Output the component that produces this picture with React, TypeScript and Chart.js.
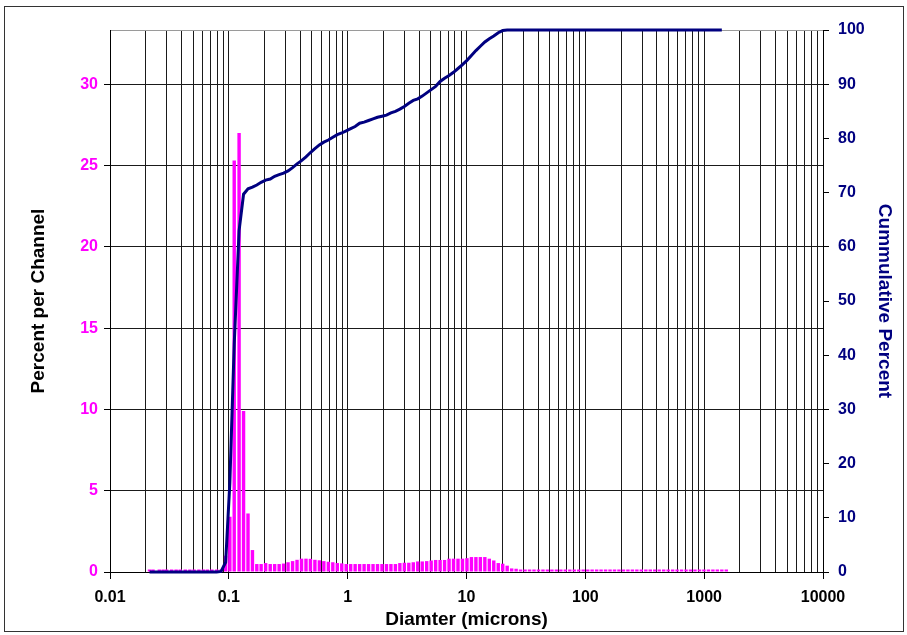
import React, { useEffect, useRef } from "react";
import { Chart, registerables } from "chart.js";

Chart.register(...registerables);

// Channel diameters (microns), ascending
const diameters = [
  0.0215, 0.023, 0.026, 0.028, 0.030, 0.033, 0.036, 0.039, 0.043, 0.047, 0.051, 0.056, 0.061, 0.066, 0.072, 0.079,
  0.086, 0.094, 0.102, 0.111, 0.122, 0.133, 0.145, 0.158,
  0.172, 0.187, 0.204, 0.223, 0.243, 0.265, 0.289, 0.315,
  0.344, 0.375, 0.409, 0.446, 0.486, 0.530, 0.578, 0.630,
  0.688, 0.750, 0.818, 0.892, 0.972, 1.060, 1.156, 1.261,
  1.375, 1.499, 1.635, 1.783, 1.945, 2.121, 2.312, 2.522,
  2.750, 2.999, 3.270, 3.566, 3.889, 4.241, 4.625, 5.044,
  5.500, 5.998, 6.541, 7.133, 7.778, 8.482, 9.250, 10.09,
  11.00, 12.00, 13.08, 14.27, 15.56, 16.96, 18.50, 20.17,
  22.00, 23.99, 26.16, 28.53, 31.11, 33.93, 37.00, 40.35,
  44.00, 47.98, 52.33, 57.06, 62.23, 67.86, 74.00, 80.70,
  88.00, 95.96, 104.7, 114.1, 124.5, 135.7, 148.0, 161.4,
  176.0, 191.9, 209.3, 228.2, 248.9, 271.4, 296.0, 322.8,
  352.0, 383.9, 418.6, 456.5, 497.8, 542.9, 592.0, 645.6,
  704.0, 767.7, 837.2, 913.0, 995.6, 1086, 1184, 1291,
  1408, 1535,
];

// Percent per channel (bars, left axis)
const percentPerChannel = [
  0, 0, 0, 0, 0, 0, 0, 0, 0, 0, 0, 0, 0, 0, 0, 0, 0,
  1.0, 3.4, 25.3, 27.0, 9.9, 3.6, 1.35,
  0.49, 0.49, 0.55, 0.49, 0.49, 0.49,
  0.52, 0.60, 0.67, 0.75, 0.82, 0.82, 0.81, 0.75, 0.72, 0.67, 0.63, 0.60, 0.55, 0.53, 0.49,
  0.49, 0.49, 0.49, 0.49, 0.49, 0.49, 0.49, 0.49, 0.49, 0.49, 0.49,
  0.55, 0.57, 0.57, 0.60, 0.65, 0.65, 0.67, 0.71, 0.74, 0.74, 0.74, 0.82, 0.82, 0.82, 0.82,
  0.85, 0.92, 0.92, 0.92, 0.92, 0.82, 0.71, 0.55, 0.51, 0.39, 0.22, 0.20,
  0, 0, 0, 0, 0, 0, 0, 0, 0, 0, 0, 0, 0, 0, 0, 0, 0, 0, 0, 0, 0, 0, 0, 0,
  0, 0, 0, 0, 0, 0, 0, 0, 0, 0, 0, 0, 0, 0, 0, 0, 0, 0, 0, 0, 0, 0, 0,
];

// Cumulative percent (line, right axis), channels 0.0215 .. 1408
const cumulativePercent = [
  0, 0, 0, 0, 0, 0, 0, 0, 0, 0, 0, 0, 0, 0, 0, 0,
  0.1, 1.8, 16.5, 42.0, 63.0, 69.7, 70.7, 71.0,
  71.4, 71.9, 72.3, 72.5, 73.0, 73.3, 73.6, 74.0,
  74.6, 75.3, 75.9, 76.6, 77.4, 78.1, 78.8, 79.3,
  79.7, 80.2, 80.7, 81.0, 81.4, 81.8, 82.2, 82.8,
  83.0, 83.3, 83.6, 83.9, 84.1, 84.3, 84.7, 85.0,
  85.4, 85.9, 86.5, 87.0, 87.3, 87.8, 88.4, 89.0,
  89.6, 90.5, 91.1, 91.6, 92.2, 92.9, 93.6, 94.4,
  95.3, 96.2, 97.0, 97.8, 98.4, 98.9, 99.5, 99.9,
  100, 100, 100, 100, 100, 100, 100, 100, 100, 100, 100, 100, 100, 100, 100, 100,
  100, 100, 100, 100, 100, 100, 100, 100, 100, 100, 100, 100, 100, 100, 100, 100,
  100, 100, 100, 100, 100, 100, 100, 100, 100, 100, 100, 100, 100, 100, 100, 100,
  100,
];

const xDecades = [0.01, 0.1, 1, 10, 100, 1000, 10000];
const xDecadeLabels = ["0.01", "0.1", "1", "10", "100", "1000", "10000"];
const minorMultipliers = [1, 2, 3, 4, 5, 6, 7, 8, 9];

const FONT = "'Liberation Sans', Arial, sans-serif";

function decadeIndex(v: number): number {
  for (let i = 0; i < xDecades.length; i++) {
    if (Math.abs(v - xDecades[i]) / xDecades[i] < 1e-6) return i;
  }
  return -1;
}

export default function App() {
  const ref = useRef<HTMLCanvasElement>(null);

  useEffect(() => {
    if (!ref.current) return;
    const framePlugin = {
      id: "frame",
      beforeDraw(chart: any) {
        const c = chart.ctx;
        c.save();
        c.fillStyle = "#ffffff";
        c.fillRect(0, 0, chart.width, chart.height);
        c.restore();
      },
      afterDraw(chart: any) {
        const c = chart.ctx;
        c.save();
        c.strokeStyle = "#333333";
        c.lineWidth = 1;
        c.strokeRect(4.5, 6.5, 899, 625);
        c.restore();
      },
    };

    const chart = new Chart(ref.current, {
      type: "line",
      data: {
        datasets: [
          {
            type: "line",
            label: "Cummulative Percent",
            data: cumulativePercent.map((v, i) => ({ x: diameters[i], y: v })),
            yAxisID: "y1",
            borderColor: "#000080",
            borderWidth: 3,
            pointRadius: 0,
            tension: 0,
            fill: false,
            order: 0,
            clip: false,
          } as any,
          {
            type: "bar",
            label: "Percent per Channel",
            data: percentPerChannel.map((v, i) => ({ x: diameters[i], y: v })),
            yAxisID: "y",
            backgroundColor: "#FF00FF",
            borderWidth: 0,
            barPercentage: 0.98,
            categoryPercentage: 1,
            minBarLength: 2.5,
            order: 1,
          } as any,
        ],
      },
      options: {
        animation: false,
        responsive: false,
        maintainAspectRatio: false,
        devicePixelRatio: 1,
        layout: { padding: { top: 30, left: 0, right: 0, bottom: 0 } },
        plugins: {
          legend: { display: false },
          tooltip: { enabled: false },
        },
        scales: {
          x: {
            type: "logarithmic",
            min: 0.01,
            max: 10000,
            offset: false,
            afterBuildTicks: (scale: any) => {
              const t: any[] = [];
              for (const d of xDecades) {
                if (d === 10000) {
                  t.push({ value: d });
                  continue;
                }
                for (const m of minorMultipliers) {
                  t.push({ value: parseFloat((m * d).toPrecision(6)) });
                }
              }
              scale.ticks = t;
            },
            afterFit: (scale: any) => {
              scale.height = 63;
            },
            grid: {
              display: true,
              offset: false,
              drawOnChartArea: true,
              color: "#1a1a1a",
              lineWidth: 1,
              tickLength: 7,
              tickColor: (ctx: any) =>
                ctx.tick && decadeIndex(ctx.tick.value) >= 0 ? "#000000" : "rgba(0,0,0,0)",
            },
            border: { display: true, color: "#000000", width: 1 },
            ticks: {
              autoSkip: false,
              maxRotation: 0,
              minRotation: 0,
              padding: 9,
              color: "#000000",
              font: { family: FONT, size: 16, weight: "bold" },
              callback: (value: any) => {
                const i = decadeIndex(Number(value));
                return i >= 0 ? xDecadeLabels[i] : "";
              },
            },
            title: {
              display: true,
              text: "Diamter (microns)",
              color: "#000000",
              font: { family: FONT, size: 19, weight: "bold" },
              padding: { top: 0, bottom: 4 },
            },
          } as any,
          y: {
            type: "linear",
            position: "left",
            min: 0,
            max: 100 / 3,
            afterFit: (scale: any) => {
              scale.width = 110;
            },
            grid: {
              display: true,
              drawOnChartArea: true,
              color: "#1a1a1a",
              lineWidth: 1,
              tickLength: 6,
              tickColor: "#000000",
            },
            border: { display: true, color: "#000000", width: 1 },
            ticks: {
              stepSize: 5,
              includeBounds: false,
              padding: 6,
              color: "#FF00FF",
              font: { family: FONT, size: 16, weight: "bold" },
            },
            title: {
              display: true,
              text: "Percent per Channel",
              color: "#000000",
              font: { family: FONT, size: 19, weight: "bold" },
              padding: { top: 27, bottom: 0 },
            },
          } as any,
          y1: {
            type: "linear",
            position: "right",
            min: 0,
            max: 100,
            afterFit: (scale: any) => {
              scale.width = 84;
            },
            grid: {
              display: true,
              drawOnChartArea: true,
              color: (ctx: any) =>
                ctx.tick && ctx.tick.value === 100 ? "#9a9a9a" : "rgba(0,0,0,0)",
              lineWidth: 1,
              tickLength: 6,
              tickColor: "#000000",
            },
            border: { display: true, color: "#000000", width: 1 },
            ticks: {
              stepSize: 10,
              padding: 9,
              color: "#000080",
              font: { family: FONT, size: 16, weight: "bold" },
            },
            title: {
              display: true,
              text: "Cummulative Percent",
              color: "#000080",
              font: { family: FONT, size: 19, weight: "bold" },
              padding: { top: 11, bottom: 0 },
            },
          } as any,
        },
      },
      plugins: [framePlugin],
    });

    return () => {
      chart.destroy();
    };
  }, []);

  return (
    <div style={{ position: "fixed", left: 0, top: 0, width: 907, height: 635 }}>
      <canvas ref={ref} width={907} height={635} style={{ display: "block", width: 907, height: 635 }} />
    </div>
  );
}
